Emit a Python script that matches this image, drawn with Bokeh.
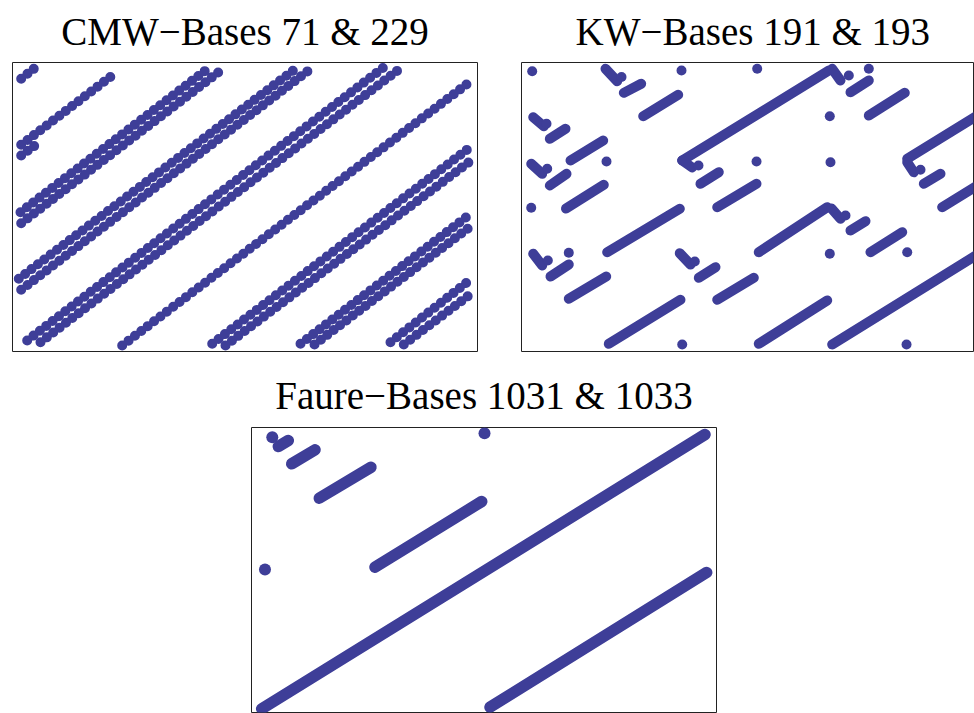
from bokeh.plotting import figure
from bokeh.layouts import row, column
from bokeh.models import Spacer, Range1d
from bokeh.embed import file_html
from bokeh.resources import INLINE

DOT = "#3e3e98"
TITLE_FONT = "Liberation Serif"

titles = ["CMW\u2212Bases 71 & 229", "KW\u2212Bases 191 & 193", "Faure\u2212Bases 1031 & 1033"]

# CMW: rows of points (first point -> last point of each row)
cmw_x0 = [0.0187, 0.0187, 0.0187, 0.0172, 0.0187, 0.0135, 0.0187, 0.0316, 0.0602, 0.2359, 0.4295, 0.4581, 0.6194, 0.6495, 0.8129, 0.8415]
cmw_y0 = [0.9436, 0.7152, 0.6782, 0.4820, 0.4439, 0.2516, 0.2135, 0.0381, 0.0322, 0.0208, 0.0266, 0.0208, 0.0266, 0.0242, 0.0322, 0.0242]
cmw_x1 = [0.0458, 0.2237, 0.0602, 0.4151, 0.4430, 0.6086, 0.6366, 0.7978, 0.8280, 0.9800, 0.9800, 0.9834, 0.9778, 0.9813, 0.9778, 0.9813]
cmw_y1 = [0.9782, 0.9664, 0.7266, 0.9723, 0.9664, 0.9782, 0.9723, 0.9827, 0.9723, 0.9284, 0.7014, 0.6574, 0.4671, 0.4280, 0.2398, 0.1938]

# KW: runs of merged points
kw_x0 = [0.1806, 0.2200, 0.2617, 0.0252, 0.0609, 0.1054, 0.0209, 0.0609, 0.0957, 0.3456, 0.3456, 0.3849, 0.4209, 0.6682, 0.7075, 0.7469, 0.8295,
         0.8295, 0.8652, 0.9047, 0.1843, 0.0252, 0.0624, 0.1017, 0.1877, 0.3404, 0.3813, 0.4209, 0.5103, 0.6667, 0.7075, 0.7505, 0.5103, 0.6682]
kw_y0 = [0.9782, 0.8951, 0.8142, 0.8107, 0.7360, 0.6609, 0.6495, 0.5744, 0.4948, 0.6609, 0.6609, 0.5803, 0.4993, 0.9782, 0.8972, 0.8166, 0.6668,
         0.6550, 0.5803, 0.4993, 0.3436, 0.3381, 0.2595, 0.1824, 0.0266, 0.3401, 0.2550, 0.1789, 0.3436, 0.4948, 0.4187, 0.3436, 0.0266, 0.0242]
kw_x1 = [0.2058, 0.2574, 0.3370, 0.0480, 0.0946, 0.1757, 0.0445, 0.0968, 0.1770, 0.6609, 0.3671, 0.4243, 0.5054, 0.6860, 0.7469, 0.8243, 0.9806,
         0.8437, 0.9011, 0.9806, 0.3404, 0.0445, 0.1017, 0.1822, 0.3419, 0.3634, 0.4172, 0.4996, 0.6574, 0.6860, 0.7398, 0.8187, 0.6574, 0.9806]
kw_y1 = [0.9353, 0.9263, 0.8882, 0.7796, 0.7706, 0.7301, 0.6149, 0.6149, 0.5768, 0.9723, 0.6367, 0.6204, 0.5803, 0.9377, 0.9377, 0.8951, 0.8166,
         0.6204, 0.6149, 0.5744, 0.4938, 0.2976, 0.3010, 0.2595, 0.1789, 0.3010, 0.2917, 0.2550, 0.4993, 0.4592, 0.4509, 0.4128, 0.1765, 0.3356]
# KW: single points
kw_px = [0.2151, 0.0538, 0.0553, 0.3806, 0.7039, 0.8581, 0.0566, 0.3727, 0.6968,
         0.0230, 0.3441, 0.1828, 0.5069, 0.7469, 0.6630, 0.5054, 0.6645, 0.0209, 0.1017, 0.3456, 0.6630, 0.8295, 0.8280]
kw_py = [0.9498, 0.7879, 0.6322, 0.6436, 0.9550, 0.6287, 0.3149, 0.3114, 0.4706,
         0.9699, 0.9723, 0.6574, 0.9782, 0.9782, 0.8142, 0.6574, 0.6550, 0.4972, 0.3415, 0.0242, 0.3381, 0.3436, 0.0242]

# Faure: runs of merged points
fa_x0 = [0.0219, 0.5129, 0.2656, 0.1458, 0.0865, 0.0576]
fa_y0 = [0.0266, 0.0322, 0.5166, 0.7554, 0.8744, 0.9343]
fa_x1 = [0.9753, 0.9789, 0.4951, 0.2570, 0.1366, 0.0791]
fa_y1 = [0.9758, 0.4983, 0.7439, 0.8626, 0.9228, 0.9550]
# Faure: single points
fa_px = [0.0447, 0.0290, 0.5011]
fa_py = [0.9664, 0.5087, 0.9803]


def make_fig(title, fw, fh, xr, yr, bl, br, bt, bb, standoff):
    p = figure(title=title, frame_width=fw, frame_height=fh,
               x_range=Range1d(*xr), y_range=Range1d(*yr),
               x_axis_location=None, y_axis_location=None,
               toolbar_location=None, output_backend="svg",
               min_border_left=bl, min_border_right=br,
               min_border_top=bt, min_border_bottom=bb)
    p.xgrid.visible = False
    p.ygrid.visible = False
    p.outline_line_color = "#222222"
    p.outline_line_width = 1
    p.background_fill_color = "white"
    p.border_fill_color = "white"
    p.title.text_font = TITLE_FONT
    p.title.text_font_size = "39px"
    p.title.text_font_style = "normal"
    p.title.text_color = "black"
    p.title.align = "center"
    p.title.vertical_align = "top"
    p.title.standoff = standoff
    return p


p1 = make_fig(titles[0], 465, 289, (0, 1), (0, 1), 12, 22, 62, 13, 16)
p1.segment(cmw_x0, cmw_y0, cmw_x1, cmw_y1, line_color=DOT, line_width=10,
           line_cap="round", line_dash="0 8")

p2 = make_fig(titles[1], 452, 289, (0, 0.97204), (0, 1), 22, 1, 62, 13, 16)
p2.title.align = "left"
p2.title.offset = 54
p2.segment(kw_x0, kw_y0, kw_x1, kw_y1, line_color=DOT, line_width=10, line_cap="round")
p2.scatter(kw_px, kw_py, size=10, fill_color=DOT, line_color=None)

p3 = make_fig(titles[2], 465, 285, (0, 1), (0.0138, 1.0), 4, 1, 63, 1, 17)
p3.segment(fa_x0, fa_y0, fa_x1, fa_y1, line_color=DOT, line_width=11.5, line_cap="round")
p3.scatter(fa_px, fa_py, size=12, fill_color=DOT, line_color=None)

layout = column(row(p1, p2), row(Spacer(width=247, height=10), p3))

open("out.html", "w").write(file_html(layout, INLINE))
